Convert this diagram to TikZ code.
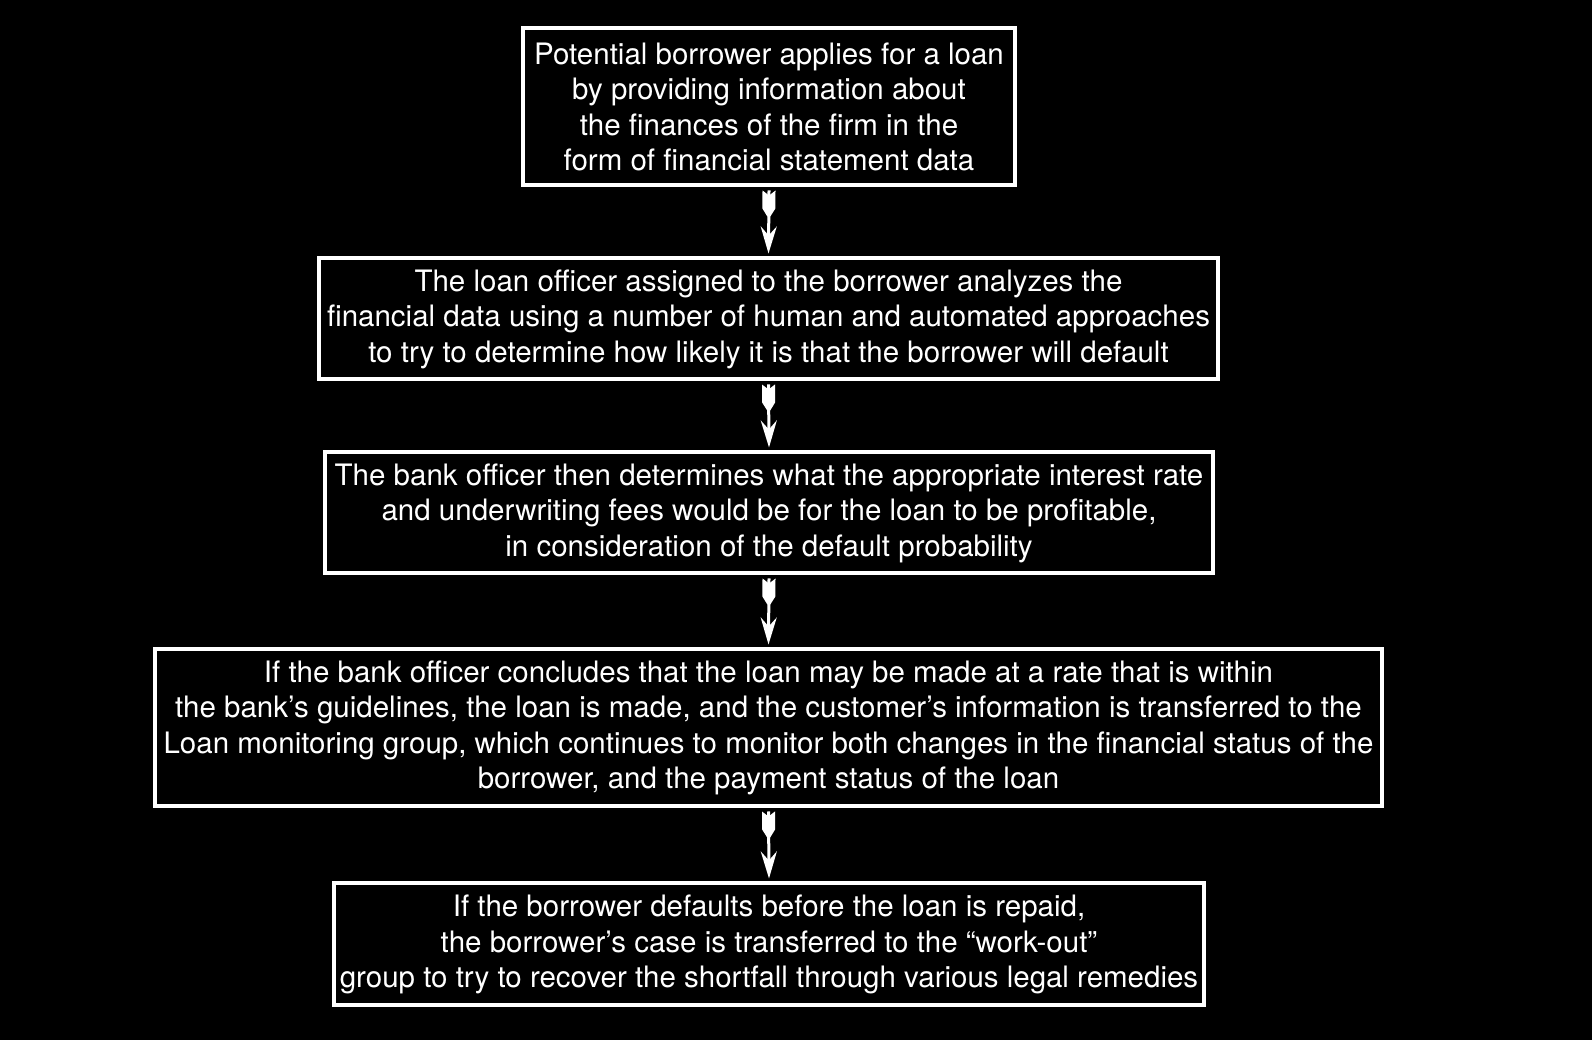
\documentclass[tikz,border=0pt]{standalone}
\usepackage{fontspec}
\setmainfont{TeX Gyre Heros}
\usetikzlibrary{arrows.meta}
\usetikzlibrary{decorations.markings}

\begin{document}
\begin{tikzpicture}[x=1pt,y=1pt,
  stagebox/.style={draw=white, line width=4pt, text=white, align=center,
    font=\fontsize{29.5}{35.5}\selectfont, inner sep=0pt},
  flow/.style={white, line width=3pt, -{Stealth[length=27pt,width=16pt,inset=9pt]},
    postaction={decorate, decoration={markings, mark=at position 0 with
      {\fill[white] (0,6.5) -- (5,0) -- (0,-6.5) -- (18,-6.5) -- (26,-1.5)
        -- (26,1.5) -- (18,6.5) -- cycle;}}}}]
\fill[black] (0,0) rectangle (1592,1040);
%
\node[stagebox, minimum width=492pt, minimum height=157pt] (apply) at (769,933)
  {Potential borrower applies for a loan\\ by providing information about\\ the finances of the firm in the\\ form of financial statement data};
\node[stagebox, minimum width=899pt, minimum height=121pt] (analyze) at (768.5,721)
  {The loan officer assigned to the borrower analyzes the\\ financial data using a number of human and automated approaches\\ to try to determine how likely it is that the borrower will default};
\node[stagebox, minimum width=888pt, minimum height=121pt] (pricing) at (769,527)
  {The bank officer then determines what the appropriate interest rate\\ and underwriting fees would be for the loan to be profitable,\\ in consideration of the default probability};
\node[stagebox, minimum width=1227pt, minimum height=157pt] (monitor) at (768.5,312)
  {If the bank officer concludes that the loan may be made at a rate that is within\\ the bank’s guidelines, the loan is made, and the customer’s information is transferred to the\\ Loan monitoring group, which continues to monitor both changes in the financial status of the\\ borrower, and the payment status of the loan};
\node[stagebox, minimum width=870pt, minimum height=122pt] (workout) at (769,95.5)
  {If the borrower defaults before the loan is repaid,\\ the borrower’s case is transferred to the “work-out”\\ group to try to recover the shortfall through various legal remedies};
%
\draw[flow] ([yshift=-3pt]apply.south) -- ([yshift=3pt]analyze.north);
\draw[flow] ([yshift=-3pt]analyze.south) -- ([yshift=3pt]pricing.north);
\draw[flow] ([yshift=-3pt]pricing.south) -- ([yshift=3pt]monitor.north);
\draw[flow] ([yshift=-3pt]monitor.south) -- ([yshift=3pt]workout.north);
\end{tikzpicture}
\end{document}
